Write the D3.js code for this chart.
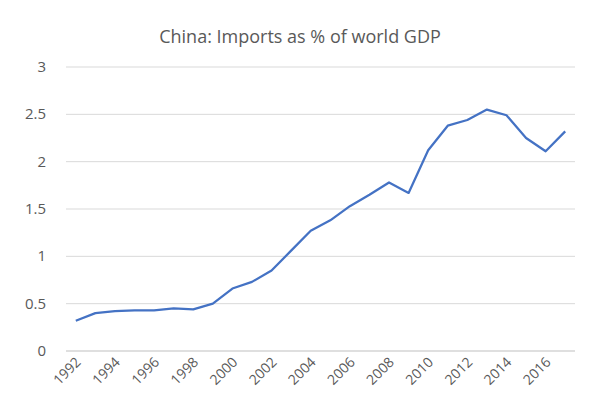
<!DOCTYPE html>
<html><head><meta charset="utf-8">
<script src="https://cdn.jsdelivr.net/npm/d3@7"></script>
<style>body{margin:0;background:#fff}text{font-family:"Open Sans","Liberation Sans",sans-serif}</style>
</head><body><svg id="c" width="599" height="419"></svg>
<script>
const years = d3.range(1992, 2018).map(String);
const values = [0.32,0.40,0.42,0.43,0.43,0.45,0.44,0.50,0.66,0.73,0.85,1.06,1.27,1.38,1.53,1.65,1.78,1.67,2.12,2.38,2.44,2.55,2.49,2.25,2.11,2.32];
const yTicks = [0,0.5,1,1.5,2,2.5,3];
const title = "China: Imports as % of world GDP";

const svg = d3.select("#c");
const m = {l:66, r:575, t:67, b:351};
const x = d3.scaleBand().domain(years).range([m.l, m.r]);
const y = d3.scaleLinear().domain([0,3]).range([m.b, m.t]);

svg.append("text").attr("x",300).attr("y",43).attr("text-anchor","middle")
  .attr("font-size",18).attr("fill","#595959").text(title);

svg.append("g").selectAll("line").data(yTicks.slice(1)).join("line")
  .attr("x1",m.l).attr("x2",m.r).attr("y1",d=>y(d)).attr("y2",d=>y(d))
  .attr("stroke","#d9d9d9");
svg.append("line").attr("x1",m.l).attr("x2",m.r).attr("y1",m.b).attr("y2",m.b).attr("stroke","#bfbfbf");

svg.append("g").selectAll("text").data(yTicks).join("text")
  .attr("x",46).attr("y",d=>y(d)+5).attr("text-anchor","end")
  .attr("font-size",15).attr("fill","#595959").text(d=>d);

svg.append("g").selectAll("text").data(years.filter((d,i)=>i%2===0)).join("text")
  .attr("transform",d=>`translate(${x(d)+x.bandwidth()/2+6},${m.b+12}) rotate(-45)`)
  .attr("text-anchor","end").attr("font-size",14).attr("fill","#595959").text(d=>d);

svg.append("path").datum(values)
  .attr("d", d3.line().x((d,i)=>x(years[i])+x.bandwidth()/2).y(d=>y(d)))
  .attr("fill","none").attr("stroke","#4472c4").attr("stroke-width",2.25).attr("stroke-linejoin","round");
</script></body></html>
